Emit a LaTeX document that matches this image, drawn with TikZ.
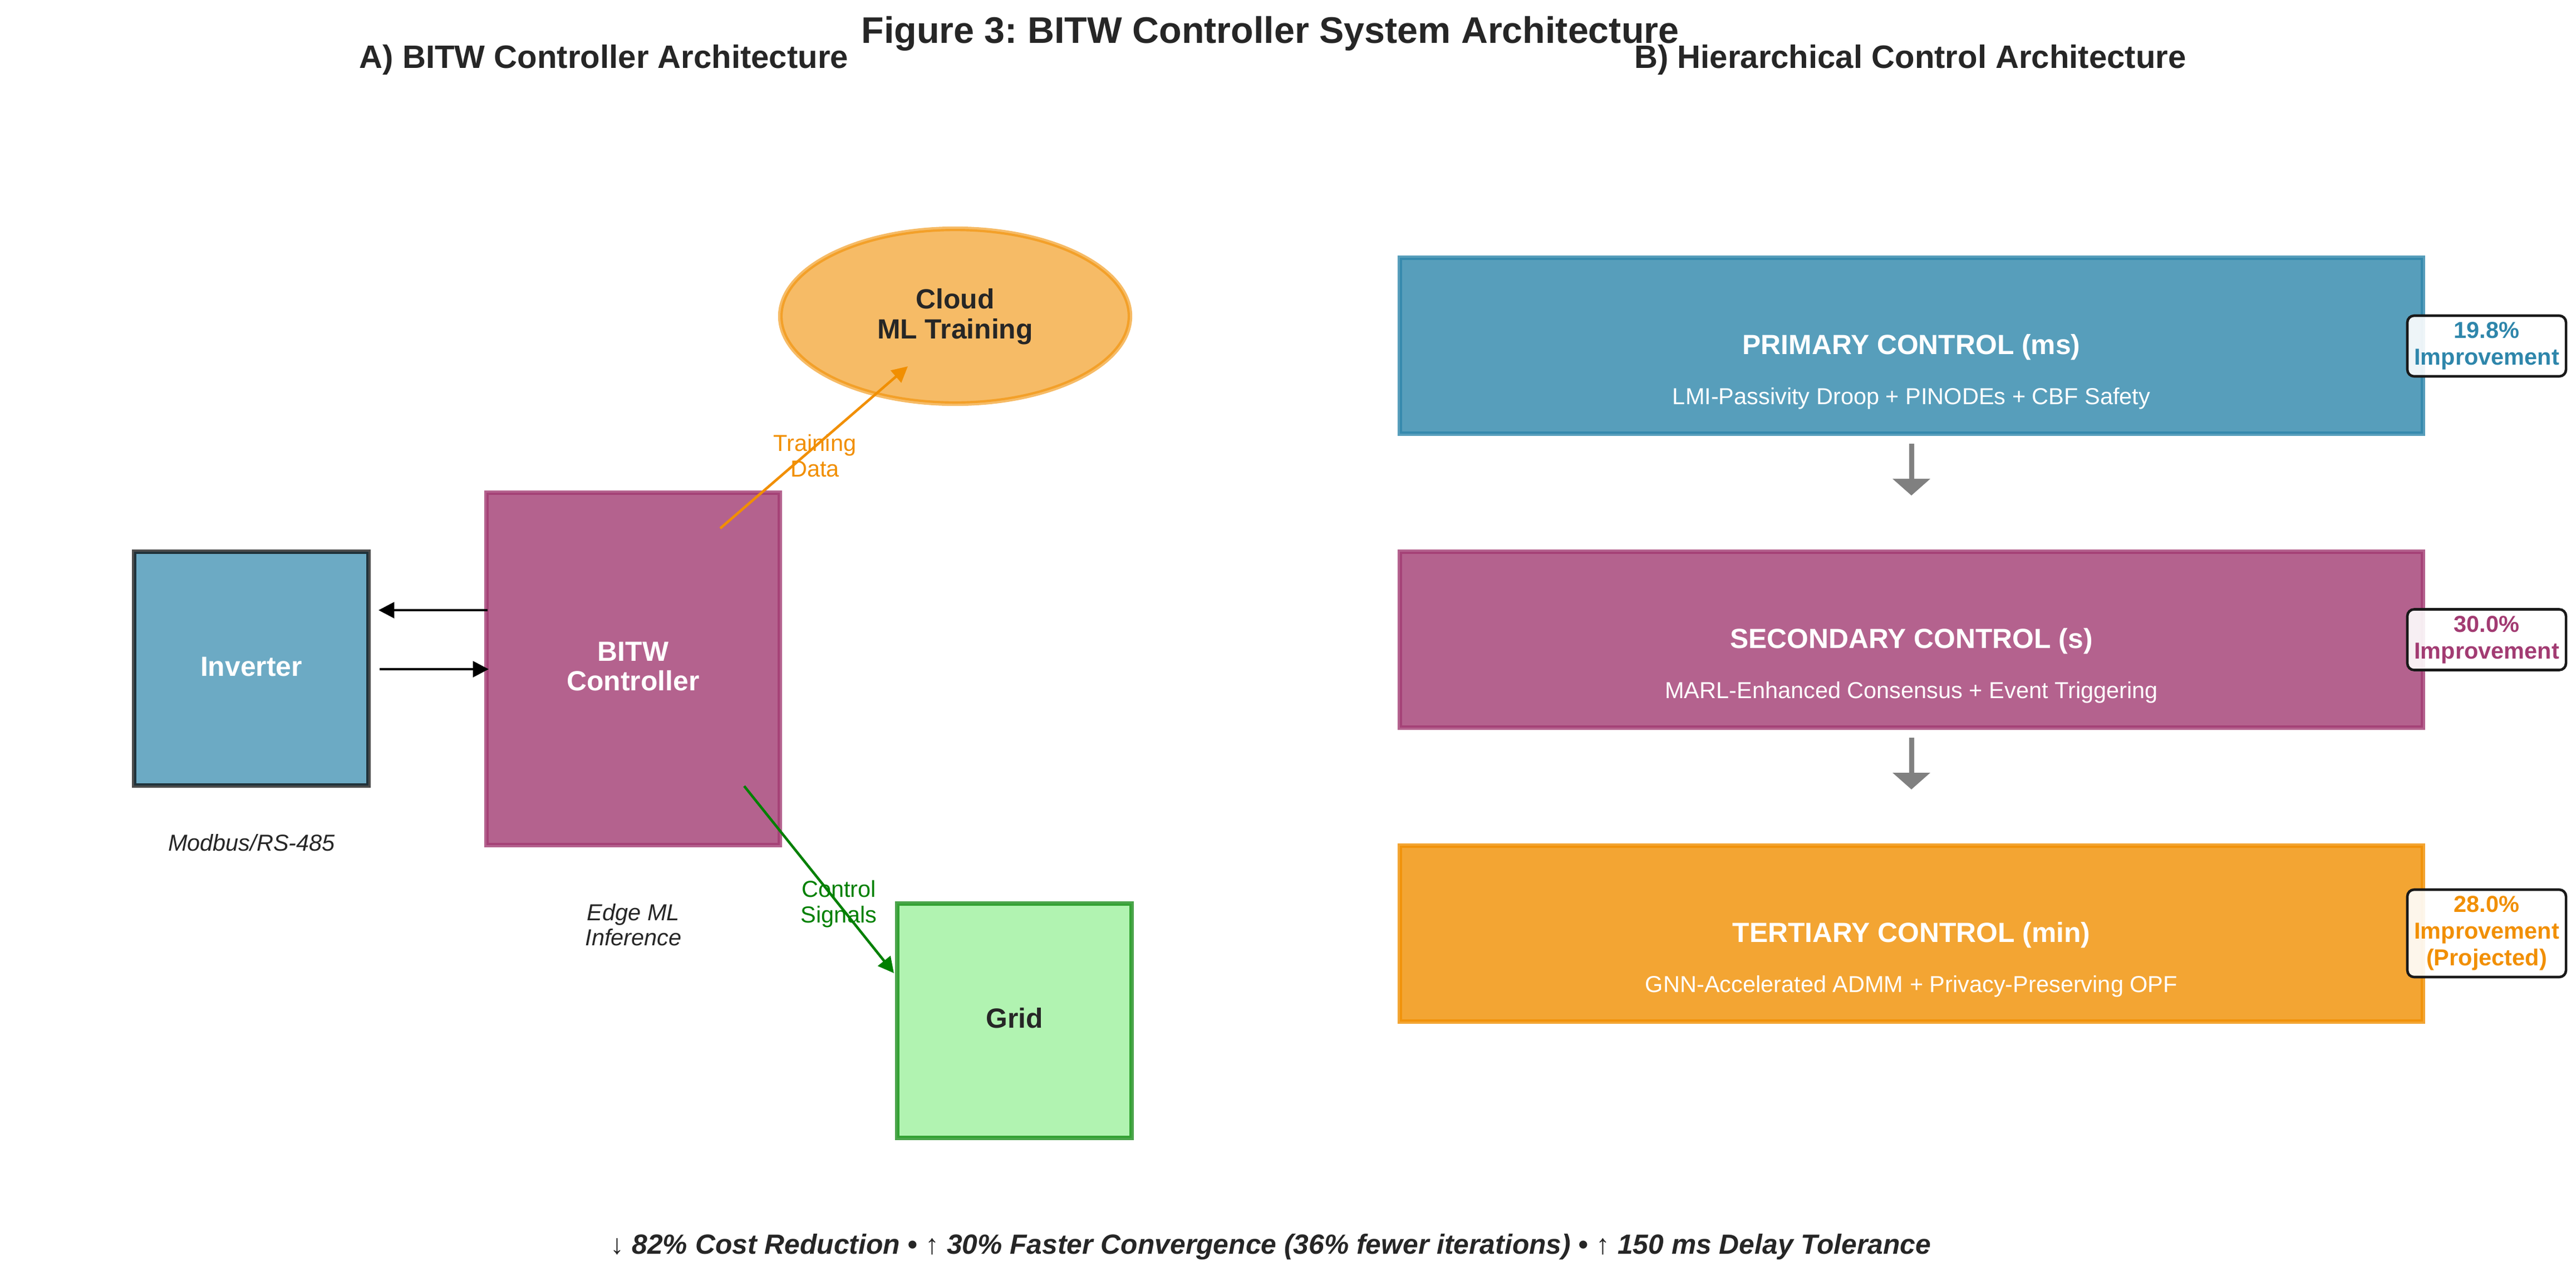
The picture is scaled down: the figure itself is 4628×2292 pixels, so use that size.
\documentclass[tikz,border=0pt]{standalone}
\usepackage{fontspec}
\setmainfont{Liberation Sans}
\usetikzlibrary{arrows.meta,shapes.geometric}
\definecolor{txt}{HTML}{262626}
\definecolor{cblue}{HTML}{2E86AB}
\definecolor{cmag}{HTML}{A23B72}
\definecolor{corange}{HTML}{F18F01}
\definecolor{clgreen}{HTML}{90EE90}
\definecolor{dgreen}{HTML}{008000}
\definecolor{agray}{HTML}{808080}
\frenchspacing
\begin{document}
\begin{tikzpicture}[x=0.24bp,y=-0.24bp,
  boxshape/.style={rectangle, draw, line width=2bp, fill opacity=0.8, draw opacity=0.8, inner sep=0pt, outer sep=0pt},
  badge/.style={rectangle, rounded corners=2.9bp, draw=black!90, line width=1.1bp, fill=white, fill opacity=0.9, text opacity=1, inner sep=0pt, minimum width=68.4bp, align=center, font=\bfseries\fontsize{10}{11.52}\selectfont},
  ttxt/.style={inner sep=0pt, anchor=base, text=txt},
  lbl/.style={inner sep=0pt, align=center, font=\fontsize{10}{11}\selectfont},
  boxlbl/.style={inner sep=0pt, font=\bfseries\fontsize{12}{12.96}\selectfont},
  subl/.style={inner sep=0pt, anchor=base, text=white, font=\fontsize{10}{12}\selectfont},
  conn/.style={line width=1.1bp, -{Triangle[length=6.8bp,width=6.8bp]}},
  grayarrow/.style={agray, line width=2.16bp, -{Triangle[length=7.2bp,width=15.84bp]}}
]
\fill[white] (0,0) rectangle (4628,2292);
\useasboundingbox (0,0) rectangle (4628,2292);

% titles
\node[ttxt, font=\bfseries\fontsize{16}{19}\selectfont] (ttl) at (2282,77) {Figure 3: BITW Controller System Architecture};
\node[ttxt, font=\bfseries\fontsize{14}{17}\selectfont] (ta) at (1085,122) {A) BITW Controller Architecture};
\node[ttxt, font=\bfseries\fontsize{14}{17}\selectfont] (tb) at (3432,122) {B) Hierarchical Control Architecture};

% ---- panel A shapes
\node[boxshape, fill=cblue, draw=black, fill opacity=0.7, draw opacity=0.7, minimum width=101.04bp, minimum height=100.8bp] (inv) at (451.5,1201) {};
\node[boxshape, fill=cmag, draw=cmag, minimum width=126.48bp, minimum height=151.92bp] (bitw) at (1137.5,1201.5) {};
\node[ellipse, fill=corange, draw=corange, fill opacity=0.6, draw opacity=0.6, line width=2bp, inner sep=0pt, outer sep=0pt, minimum width=150.72bp, minimum height=75.36bp] (cloud) at (1716,568) {};
\node[boxshape, fill=clgreen, draw=dgreen, fill opacity=0.7, draw opacity=0.7, minimum width=101.04bp, minimum height=101.04bp] (grid) at (1822.5,1833.5) {};

% connector end points
\coordinate (a1s) at (876,1096);
\coordinate (a1e) at (680,1096);
\coordinate (a2s) at (682,1202);
\coordinate (a2e) at (878,1202);
\coordinate (tds) at (1294,949);
\coordinate (tde) at (1631,658);
\coordinate (css) at (1337,1412);
\coordinate (cse) at (1606,1748);

\draw[conn, black] (a1s) -- (a1e);
\draw[conn, black] (a2s) -- (a2e);
\draw[conn, corange] (tds) -- (tde);
\draw[conn, dgreen] (css) -- (cse);

% panel A texts
\node[boxlbl, anchor=base, text=white] (linv) at (451.5,1214) {Inverter};
\node[boxlbl, align=center, text=white] (lbitw) at (1137.5,1197) {BITW\\Controller};
\node[boxlbl, align=center, text=txt] (lcloud) at (1716,569) {Cloud\\ML Training};
\node[boxlbl, anchor=base, text=txt] (lgrid) at (1822.5,1846.5) {Grid};
\node[lbl, text=corange] (ltd) at (1464,818.5) {Training\\Data};
\node[lbl, text=dgreen] (lcs) at (1507,1623.5) {Control\\Signals};
\node[ttxt, font=\itshape\fontsize{10}{11}\selectfont] (lmb) at (452,1528) {Modbus/RS-485};
\node[lbl, text=txt, font=\itshape\fontsize{10}{11}\selectfont] (lem) at (1138,1661) {Edge ML\\Inference};

% ---- panel B
\node[boxshape, fill=cblue, draw=cblue, minimum width=441.12bp, minimum height=75.84bp] (prim) at (3434,621) {};
\node[boxshape, fill=cmag, draw=cmag, minimum width=441.12bp, minimum height=75.84bp] (sec) at (3434,1149) {};
\node[boxshape, fill=corange, draw=corange, minimum width=441.12bp, minimum height=75.84bp] (ter) at (3434,1677) {};

\coordinate (g1s) at (3434,797);
\coordinate (g1e) at (3434,890);
\coordinate (g2s) at (3434,1325);
\coordinate (g2e) at (3434,1418);
\draw[grayarrow] (g1s) -- (g1e);
\draw[grayarrow] (g2s) -- (g2e);

\node[boxlbl, anchor=base, text=white] (tp) at (3434,636) {PRIMARY CONTROL (ms)};
\node[subl] (sp) at (3434,726) {LMI-Passivity Droop + PINODEs + CBF Safety};
\node[boxlbl, anchor=base, text=white] (ts) at (3434,1164) {SECONDARY CONTROL (s)};
\node[subl] (ss) at (3434,1254) {MARL-Enhanced Consensus + Event Triggering};
\node[boxlbl, anchor=base, text=white] (tt) at (3434,1692) {TERTIARY CONTROL (min)};
\node[subl] (st) at (3434,1782) {GNN-Accelerated ADMM + Privacy-Preserving OPF};

\node[badge, text=cblue, minimum height=26.16bp] (bp) at (4467.5,621.5) {19.8\%\\Improvement};
\node[badge, text=cmag, minimum height=26.16bp] (bs) at (4467.5,1149) {30.0\%\\Improvement};
\node[badge, text=corange, minimum height=37.68bp] (bt) at (4467.5,1676.5) {28.0\%\\Improvement\\(Projected)};

% bottom line
\node[ttxt, font=\bfseries\itshape\fontsize{12}{14}\selectfont] (foot) at (2283,2252) {{\normalfont ↓} 82\% Cost Reduction • {\normalfont ↑} 30\% Faster Convergence (36\% fewer iterations) • {\normalfont ↑} 150 ms Delay Tolerance};
\end{tikzpicture}
\end{document}
